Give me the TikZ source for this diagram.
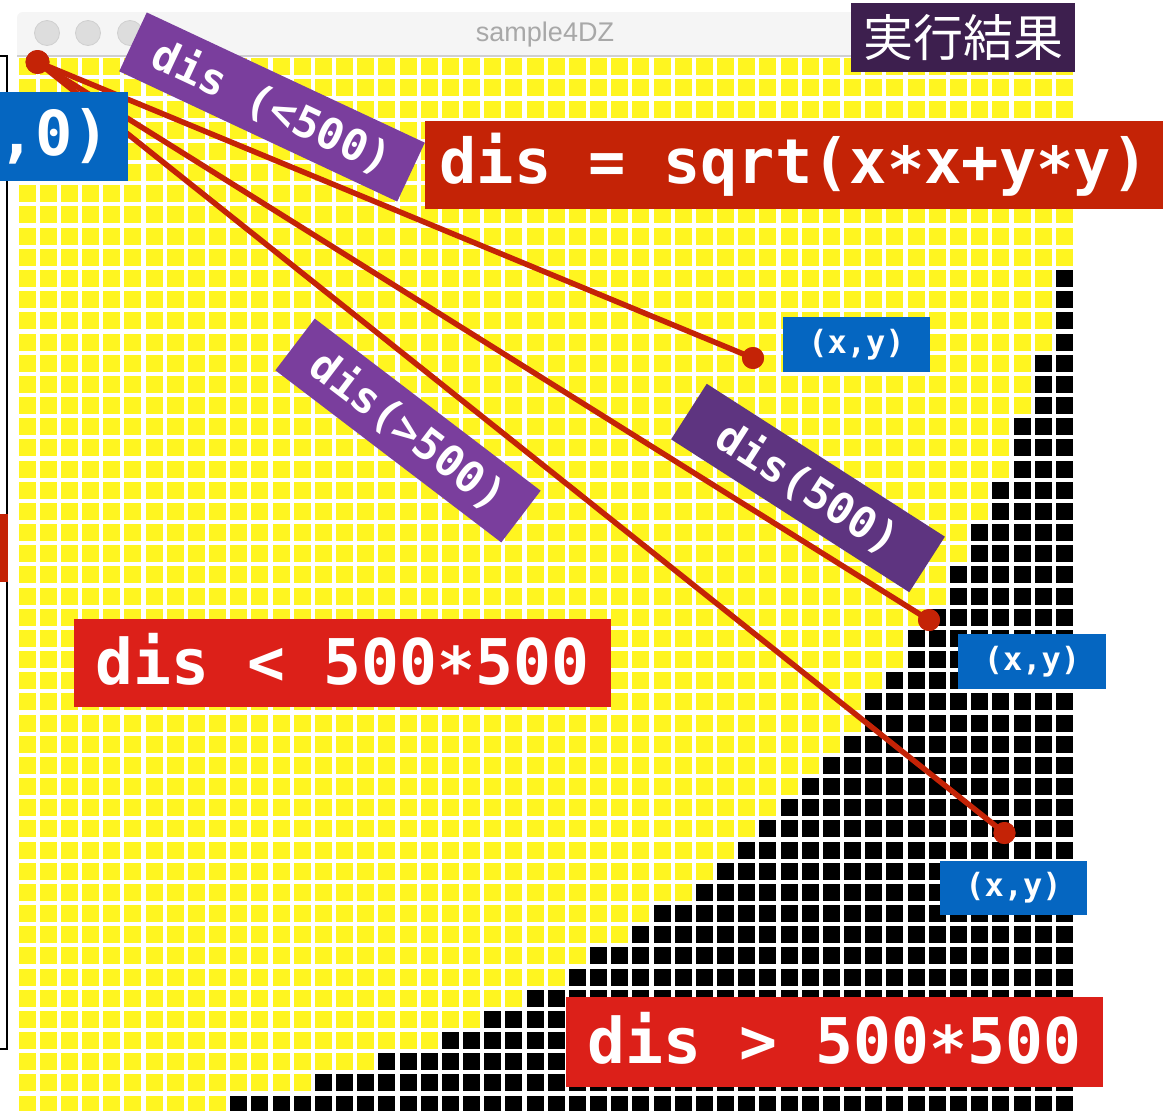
\documentclass[tikz,border=0pt]{standalone}
\usepackage{fontspec}
\setmainfont{DejaVu Sans}
\newfontfamily\monofont{DejaVu Sans Mono}
\newfontfamily\cjkfont{Noto Sans CJK JP}
\newfontfamily\uifont{Liberation Sans}
\newcommand\lowstar{\raisebox{-0.13em}{*}}
\definecolor{gridyellow}{HTML}{FFF520}
\definecolor{redA}{HTML}{C42306}
\definecolor{redB}{HTML}{DC2019}
\definecolor{blueA}{HTML}{0566C1}
\definecolor{purpleA}{HTML}{7A3E9D}
\definecolor{purpleB}{HTML}{5E3480}
\definecolor{purpleC}{HTML}{3D1F4E}
\definecolor{titlebg}{HTML}{F5F5F5}
\definecolor{titleline}{HTML}{CFCFCF}
\definecolor{circfill}{HTML}{DDDDDD}
\definecolor{titletext}{HTML}{A8A8A8}
\begin{document}
\begin{tikzpicture}[x=1pt,y=-1pt,
  bigbox/.style={text=white, inner sep=0pt, font=\monofont\bfseries\fontsize{62}{62}\selectfont},
  midbox/.style={text=white, inner sep=0pt, fill=purpleA, minimum height=65pt, font=\monofont\bfseries\fontsize{43}{43}\selectfont},
  xybox/.style={text=white, inner sep=0pt, fill=blueA, minimum width=147pt, minimum height=55pt, font=\monofont\bfseries\fontsize{32}{32}\selectfont},
  enddot/.style={circle, fill=redA, inner sep=0pt, minimum size=22pt},
  redline/.style={draw=redA, line width=5.5pt},
  winbtn/.style={circle, fill=circfill, draw=titleline, line width=0.8pt, inner sep=0pt, minimum size=25pt}]
\useasboundingbox (0,0) rectangle (1173,1111);
\clip (0,0) rectangle (1173,1111);
\fill[white] (0,0) rectangle (1173,1111);
% grid of cells
\foreach \i in {0,...,49}{
  \foreach \j in {0,...,49}{
    \ifnum\numexpr\i*\i+\j*\j\relax>2490 \def\cellcol{black}\else\def\cellcol{gridyellow}\fi
    \fill[\cellcol] ({18.5+\i*21.17},{58.3+\j*21.17}) rectangle ++(17,17);
  }
}
% window title bar
\fill[titlebg] (17,56) [rounded corners=6pt] -- (17,12) -- (1074,12) [sharp corners] -- (1074,56) -- cycle;
\draw[titleline, line width=1.5pt] (17,56) -- (1074,56);
\node[winbtn] (b1) at (47,33) {};
\node[winbtn] (b2) at (88,33) {};
\node[winbtn] (b3) at (130,33) {};
\node[text=titletext, font=\uifont\fontsize{27}{27}\selectfont, inner sep=0pt] (title) at (545,35) {sample4DZ};
% left frame fragment
\draw[line width=2pt] (-3,56) -- (6.5,56) -- (6.5,1049) -- (-3,1049);
\node[fill=redA, inner sep=0pt, minimum width=10pt, minimum height=68pt] (leftbar) at (2.5,548) {};
% connectors
\node[enddot, minimum size=24pt] (o) at (37.5,62) {};
\node[enddot] (p1) at (753,358) {};
\node[enddot] (p2) at (929,620) {};
\node[enddot] (p3) at (1004.5,833) {};
\draw[redline] (o.center) -- (p1.center);
\draw[redline] (o.center) -- (p2.center);
\draw[redline] (o.center) -- (p3.center);
\node[enddot, minimum size=24pt] at (o.center) {};
\node[enddot] at (p1.center) {};
\node[enddot] at (p2.center) {};
\node[enddot] at (p3.center) {};
% labels
\node[text=white, fill=purpleC, inner sep=0pt, minimum width=224pt, minimum height=69pt, font=\cjkfont\fontsize{50}{50}\selectfont] (jikko) at (963,37.5) {実行結果};
\node[bigbox, fill=blueA, minimum width=148pt, minimum height=89pt] (origin) at (54,136.5) {,0)};
\node[bigbox, fill=redA, minimum width=738pt, minimum height=88pt] (formula) at (794,165) {dis = sqrt(x\lowstar x+y\lowstar y)};
\node[bigbox, fill=redB, minimum width=537pt, minimum height=88pt, font=\monofont\bfseries\fontsize{63}{63}\selectfont] (lt) at (342.5,663) {dis < 500\lowstar 500};
\node[bigbox, fill=redB, minimum width=537pt, minimum height=90pt, font=\monofont\bfseries\fontsize{63}{63}\selectfont] (gt) at (834.5,1042) {dis > 500\lowstar 500};
\node[midbox, minimum width=307pt, rotate=-25.1] (lless) at (272,107) {dis (<500)};
\node[midbox, minimum width=284pt, rotate=-37.3] (lmore) at (408,430.5) {dis(>500)};
\node[midbox, fill=purpleB, minimum width=283pt, minimum height=66pt, rotate=-32.7] (lequal) at (808,488) {dis(500)};
\node[xybox] (xy1) at (856.5,344.5) {(x,y)};
\node[xybox, minimum width=148pt] (xy2) at (1032,661.5) {(x,y)};
\node[xybox, minimum height=54pt] (xy3) at (1013.5,888) {(x,y)};
\end{tikzpicture}
\end{document}
